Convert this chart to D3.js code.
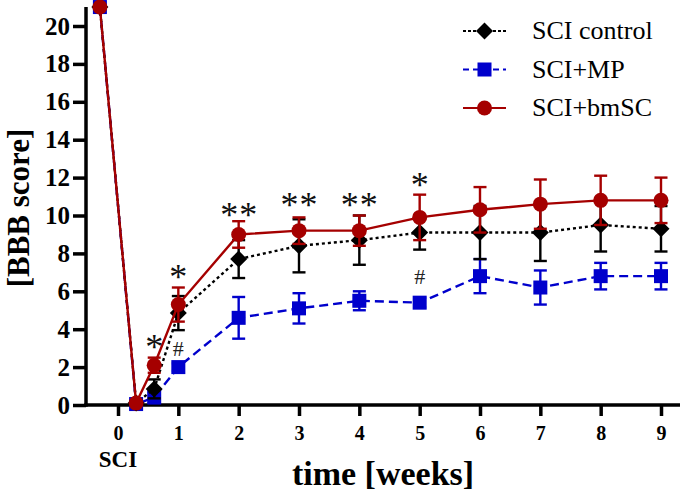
<!DOCTYPE html>
<html><head><meta charset="utf-8">
<script src="https://cdn.jsdelivr.net/npm/d3@7"></script>
<style>body{margin:0;background:#fff}svg{display:block}</style>
</head><body><svg id="c" width="685" height="494"></svg>
<script>
const xs = [-0.3, 0.3, 0.6, 1, 2, 3, 4, 5, 6, 7, 8, 9];
const control = [21, 0.1, 0.85, 4.85, 7.7, 8.4, 8.7, 9.1, 9.1, 9.1, 9.5, 9.3];
const controlErr = [0, 0.1, 0.5, 0.9, 1.0, 1.4, 1.3, 0.9, 1.4, 1.5, 1.4, 1.2];
const mp = [21, 0.05, 0.4, 2.0, 4.6, 5.1, 5.5, 5.4, 6.8, 6.2, 6.8, 6.8];
const mpErr = [0, 0.1, 0.3, 0.2, 1.1, 0.8, 0.5, 0.25, 0.9, 0.9, 0.7, 0.7];
const bmsc = [21, 0.1, 2.1, 5.3, 9.0, 9.2, 9.2, 9.9, 10.3, 10.6, 10.8, 10.8];
const bmscErr = [0, 0.1, 0.4, 0.9, 0.7, 0.7, 0.8, 1.2, 1.2, 1.3, 1.3, 1.2];
const seriesNames = ["SCI control", "SCI+MP", "SCI+bmSC"];
const xTicks = [0,1,2,3,4,5,6,7,8,9];
const yTicks = [0,2,4,6,8,10,12,14,16,18,20];
const stars = [{x:0.6, v:3.3, n:1},{x:1, v:7.0, n:1},{x:2, v:10.3, n:2},{x:3, v:10.8, n:2},{x:4, v:10.8, n:2},{x:5, v:11.85, n:1}];
const hashes = [{x:1, v:3.0},{x:5, v:6.8}];

const svg = d3.select("#c");
const x = d3.scaleLinear().domain([0, 9]).range([118, 661]);
const y = d3.scaleLinear().domain([0, 20]).range([405, 26]);
const serif = "'Liberation Serif', 'Times New Roman', serif";
const AX = 86;

// axes
const ya = svg.append("g").attr("transform",`translate(${AX},0)`)
  .call(d3.axisLeft(y).tickValues(yTicks).tickSize(13).tickSizeOuter(0).tickPadding(3));
const xa = svg.append("g").attr("transform",`translate(0,${y(0)})`)
  .call(d3.axisBottom(x).tickValues(xTicks).tickSize(11).tickSizeOuter(0).tickPadding(10));
[ya, xa].forEach(g=>{
  g.selectAll("path,line").attr("stroke","#000").attr("stroke-width",3.5);
  g.selectAll("text").attr("font-family",serif).attr("font-weight","bold").attr("fill","#000");
});
ya.selectAll("text").attr("font-size",25);
xa.selectAll("text").attr("font-size",20);
ya.select(".domain").attr("d", `M0,${y(0)+1.75}V${y(21)}`);
xa.select(".domain").attr("d", `M${AX-1.75},0H680`);

svg.append("text").attr("x", x(0)).attr("y", 467).attr("text-anchor","middle")
  .attr("font-family",serif).attr("font-weight","bold").attr("font-size",23).text("SCI");
svg.append("text").attr("x", 383).attr("y", 485).attr("text-anchor","middle")
  .attr("font-family",serif).attr("font-weight","bold").attr("font-size",34).text("time [weeks]");
svg.append("text").attr("transform","translate(29,208) rotate(-90)").attr("text-anchor","middle")
  .attr("font-family",serif).attr("font-weight","bold").attr("font-size",31).text("[BBB score]");

const series = [
  {name:seriesNames[1], vals:mp, err:mpErr, color:"#0000cc", dash:"9,5", marker:"square"},
  {name:seriesNames[0], vals:control, err:controlErr, color:"#000000", dash:"3,3", marker:"diamond"},
  {name:seriesNames[2], vals:bmsc, err:bmscErr, color:"#a50000", dash:null, marker:"circle"}
];
const line = d3.line().x(d=>x(d[0])).y(d=>y(d[1]));

function marker(g, type, cx, cy, color){
  if(type==="circle") g.append("circle").attr("cx",cx).attr("cy",cy).attr("r",7.5).attr("fill",color);
  else if(type==="square") g.append("rect").attr("x",cx-7).attr("y",cy-7).attr("width",14).attr("height",14).attr("fill",color);
  else g.append("path").attr("d",`M${cx},${cy-8.5}L${cx+8.5},${cy}L${cx},${cy+8.5}L${cx-8.5},${cy}Z`).attr("fill",color);
}

series.forEach(s=>{
  const g = svg.append("g");
  const pts = xs.map((xv,i)=>[xv, s.vals[i]]);
  g.append("path").attr("d", line(pts)).attr("fill","none").attr("stroke", s.color)
    .attr("stroke-width",2.4).attr("stroke-dasharray", s.dash);
  xs.forEach((xv,i)=>{
    const e = s.err[i]; if(e<=0.15) return;
    const cx = x(xv), y1 = y(s.vals[i]+e), y2 = y(s.vals[i]-e);
    g.append("line").attr("x1",cx).attr("x2",cx).attr("y1",y1).attr("y2",y2).attr("stroke",s.color).attr("stroke-width",2.4);
    [y1,y2].forEach(yy=>g.append("line").attr("x1",cx-6.5).attr("x2",cx+6.5).attr("y1",yy).attr("y2",yy).attr("stroke",s.color).attr("stroke-width",2.4));
  });
  xs.forEach((xv,i)=>marker(g, s.marker, x(xv), y(s.vals[i]), s.color));
});

// annotations
stars.forEach(a=>{
  const offs = a.n===2 ? [-9.5, 9.5] : [0];
  offs.forEach(o=>svg.append("text").attr("x",x(a.x)+o).attr("y",y(a.v)+17).attr("text-anchor","middle")
    .attr("font-family",serif).attr("font-size",36).attr("fill","#111").text("*"));
});
hashes.forEach(a=>svg.append("text").attr("x",x(a.x)).attr("y",y(a.v)).attr("text-anchor","middle")
  .attr("font-family",serif).attr("font-size",22).attr("fill","#222").text("#").attr("dy","0.35em"));

// legend
const legOrder = [series[1], series[0], series[2]];
legOrder.forEach((s,i)=>{
  const cy = 31 + i*38.5;
  const g = svg.append("g");
  g.append("line").attr("x1",463).attr("x2",506).attr("y1",cy).attr("y2",cy).attr("stroke",s.color)
    .attr("stroke-width",2.2).attr("stroke-dasharray", s.dash ? (s.marker==="diamond"?"3,2":"6,4") : null);
  marker(g, s.marker, 484.5, cy, s.color);
  g.append("text").attr("x",532).attr("y",cy+8).attr("font-family",serif)
    .attr("font-size",26).attr("fill","#000").text(s.name);
});
</script></body></html>
